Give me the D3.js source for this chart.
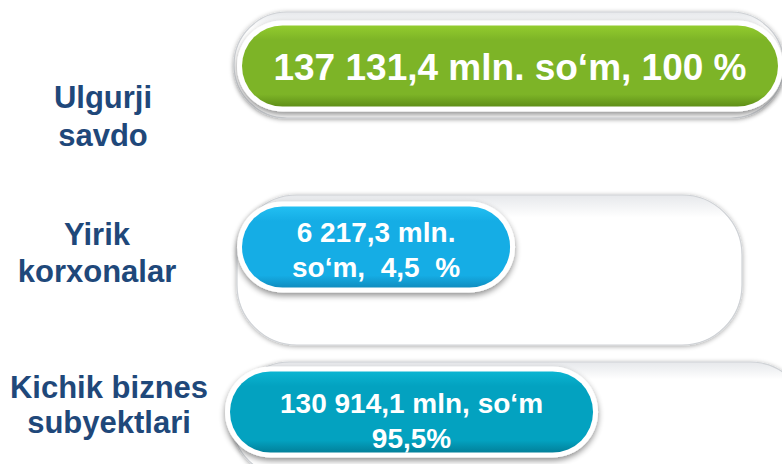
<!DOCTYPE html>
<html><head><meta charset="utf-8">
<script src="https://cdn.jsdelivr.net/npm/d3@7/dist/d3.min.js"></script>
<style>html,body{margin:0;padding:0;background:#fff;}svg{display:block;font-family:"Liberation Sans",Arial,sans-serif;}</style>
</head><body>
<script>
// ---- data ----
const categories = ["Ulgurji savdo", "Yirik korxonalar", "Kichik biznes subyektlari"];
const categoryLines = [["Ulgurji", "savdo"], ["Yirik", "korxonalar"], ["Kichik biznes", "subyektlari"]];
const valuesMln = [137131.4, 6217.3, 130914.1];
const percents = [100, 4.5, 95.5];
const valueLabels = [["137 131,4 mln. so‘m, 100 %"], ["6 217,3 mln.", "so‘m,  4,5  %"], ["130 914,1 mln, so‘m", "95,5%"]];
const barColors = [["#93cc2e", "#7db427", "#5f8f17"], ["#22bff2", "#15ade5", "#0f8dc0"], ["#0bb5d2", "#03a2c0", "#02809a"]];

const W = 782, H = 464;
const svg = d3.select("body").append("svg").attr("width", W).attr("height", H);
const defs = svg.append("defs");

function shadow(id, blur, dy, slope) {
  const f = defs.append("filter").attr("id", id).attr("x", "-10%").attr("y", "-30%").attr("width", "120%").attr("height", "160%");
  f.append("feGaussianBlur").attr("in", "SourceAlpha").attr("stdDeviation", blur);
  f.append("feOffset").attr("dx", 0).attr("dy", dy).attr("result", "b");
  f.append("feComponentTransfer").append("feFuncA").attr("type", "linear").attr("slope", slope);
  const m = f.append("feMerge"); m.append("feMergeNode"); m.append("feMergeNode").attr("in", "SourceGraphic");
}
shadow("sh", 3, 3, 0.45);
shadow("tsh", 2.5, 1, 0.35);

barColors.forEach((c, i) => {
  const g = defs.append("linearGradient").attr("id", "g" + i).attr("x1", 0).attr("y1", 0).attr("x2", 0).attr("y2", 1);
  g.append("stop").attr("offset", "0%").attr("stop-color", c[0]);
  g.append("stop").attr("offset", "18%").attr("stop-color", c[1]);
  g.append("stop").attr("offset", "85%").attr("stop-color", c[1]);
  g.append("stop").attr("offset", "100%").attr("stop-color", c[2]);
});
const tg = defs.append("linearGradient").attr("id", "tg").attr("x1", 0).attr("y1", 0).attr("x2", 0).attr("y2", 1);
tg.append("stop").attr("offset", "0%").attr("stop-color", "#e6e8eb");
tg.append("stop").attr("offset", "15%").attr("stop-color", "#ffffff");
tg.append("stop").attr("offset", "100%").attr("stop-color", "#ffffff");

// ---- scales ----
const x = d3.scaleLinear().domain([0, 100]).range([242, 778]);
const y = d3.scalePoint().domain(categories).range([66, 416]);
const pillH = 81, pad = 50;
const fontSizes = [37, 28, 28];
// per-row style tweaks (offsets from the row centre)
const labelDx = [0, -6, 6], labelDy = [42, 4, -18], labelGap = [38, 37, 35];
const trackTop = [-54, -46, -54], trackHt = [106, 150, 116], trackRx = [53, 60, 58], trackLeft = [-8, -5, -10], trackRight = [6, -36, 30];
const pillDx = [0, 0, -12], pillDy = [0, 6, -4];
const textDy = [14, 1, -3], textGap = [0, 35, 35];

const rows = categories.map((c, i) => ({c, i, v: valuesMln[i], p: percents[i], lines: valueLabels[i], label: categoryLines[i]}));

// labels
svg.append("g").selectAll("text").data(rows).join("text")
  .attr("y", d => y(d.c) + labelDy[d.i])
  .attr("text-anchor", "middle").attr("fill", "#1f487a")
  .style("font-size", "31px").style("font-weight", "bold")
  .selectAll("tspan").data(d => d.label.map((l, j) => ({l, j, i: d.i}))).join("tspan")
  .attr("x", t => 103 + labelDx[t.i]).attr("dy", t => t.j === 0 ? 0 : labelGap[t.i]).text(t => t.l);

const rowG = svg.append("g").selectAll("g").data(rows).join("g");

// tracks
rowG.append("rect")
  .attr("x", d => x(0) + trackLeft[d.i]).attr("y", d => y(d.c) + trackTop[d.i])
  .attr("width", d => x(100) - x(0) + trackRight[d.i] - trackLeft[d.i])
  .attr("height", d => trackHt[d.i])
  .attr("rx", d => trackRx[d.i])
  .attr("fill", "url(#tg)").attr("stroke", "#cfd2d6").attr("stroke-width", 1.2)
  .attr("filter", "url(#tsh)");

// text-measuring to fit pills
const measure = svg.append("text").style("font-weight", "bold").style("white-space", "pre");
rows.forEach(d => {
  measure.style("font-size", fontSizes[d.i] + "px");
  d.tw = d3.max(d.lines, l => { measure.text(l); return measure.node().getComputedTextLength(); });
  d.w = d.p >= 100 ? x(d.p) - x(0) : d.tw + 2 * pad;
  d.x0 = x(0) + pillDx[d.i];
  d.cy = y(d.c) + pillDy[d.i];
});
measure.remove();

// white rim + pill
rowG.append("rect")
  .attr("x", d => d.x0 - 5).attr("y", d => d.cy - pillH / 2 - 5)
  .attr("width", d => d.w + 10).attr("height", pillH + 10).attr("rx", (pillH + 10) / 2)
  .attr("fill", "#ffffff").attr("filter", "url(#sh)");
rowG.append("rect")
  .attr("x", d => d.x0).attr("y", d => d.cy - pillH / 2)
  .attr("width", d => d.w).attr("height", pillH).attr("rx", pillH / 2)
  .attr("fill", d => "url(#g" + d.i + ")");

// value text
rowG.append("text")
  .attr("text-anchor", "middle").attr("fill", "#ffffff").style("font-weight", "bold").style("white-space", "pre")
  .style("font-size", d => fontSizes[d.i] + "px")
  .attr("y", d => y(d.c) + textDy[d.i])
  .selectAll("tspan").data(d => d.lines.map((l, j) => ({l, j, d}))).join("tspan")
  .attr("x", t => t.d.x0 + t.d.w / 2).attr("dy", t => t.j === 0 ? 0 : textGap[t.d.i]).text(t => t.l);
</script>
</body></html>
